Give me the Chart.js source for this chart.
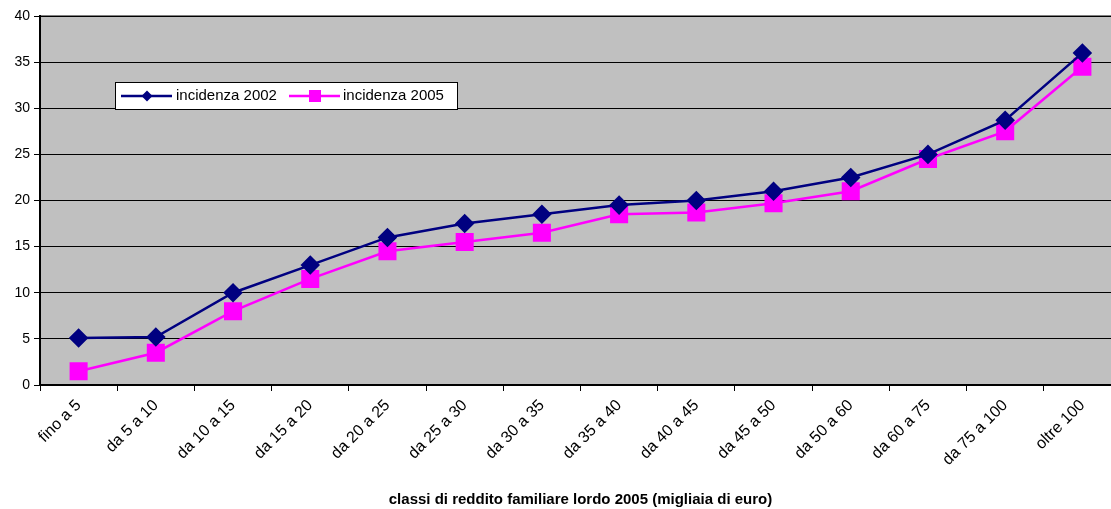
<!DOCTYPE html>
<html>
<head>
<meta charset="utf-8">
<script src="https://cdn.jsdelivr.net/npm/chart.js@4"></script>
<style>
  html, body { margin: 0; padding: 0; background: #fff; overflow: hidden; }
  /* the plot runs a little past the right edge of the picture, as in the original */
  #wrap { width: 1111px; height: 509px; overflow: hidden; }
</style>
</head>
<body>
<div id="wrap"><canvas id="chart" width="1121" height="509"></canvas></div>
<script>
// classi di reddito (categorie asse x)
const categories = ['fino a 5', 'da 5 a 10', 'da 10 a 15', 'da 15 a 20', 'da 20 a 25', 'da 25 a 30',
  'da 30 a 35', 'da 35 a 40', 'da 40 a 45', 'da 45 a 50', 'da 50 a 60', 'da 60 a 75', 'da 75 a 100', 'oltre 100'];
// valori
const incidenza2002 = [5.1, 5.2, 10, 13, 16, 17.5, 18.5, 19.5, 20, 21, 22.5, 25, 28.7, 36];
const incidenza2005 = [1.5, 3.5, 8, 11.5, 14.5, 15.5, 16.5, 18.5, 18.7, 19.7, 21, 24.5, 27.5, 34.5];
const seriesLabels = ['incidenza 2002', 'incidenza 2005'];
const yTicks = [0, 5, 10, 15, 20, 25, 30, 35, 40];
const xTitle = 'classi di reddito familiare lordo 2005 (migliaia di euro)';

const FONT = 'Liberation Sans, Arial, sans-serif';

// gray plot background + top border
const plotBg = {
  id: 'plotBg',
  beforeDraw(chart) {
    const { ctx, chartArea: a } = chart;
    ctx.save();
    ctx.fillStyle = '#c0c0c0';
    ctx.fillRect(a.left, a.top, a.right - a.left, a.bottom - a.top);
    ctx.strokeStyle = '#808080';
    ctx.lineWidth = 2;
    ctx.beginPath();
    ctx.moveTo(a.left, a.top);
    ctx.lineTo(a.right, a.top);
    ctx.stroke();
    ctx.restore();
  }
};

// legend box inside the plot, like the original
const boxLegend = {
  id: 'boxLegend',
  afterDraw(chart) {
    const ctx = chart.ctx;
    const x0 = 115, y0 = 82, w = 342, h = 27;
    ctx.save();
    ctx.fillStyle = '#fff';
    ctx.fillRect(x0, y0, w, h);
    ctx.strokeStyle = '#000';
    ctx.lineWidth = 1;
    ctx.strokeRect(x0 + 0.5, y0 + 0.5, w, h);
    const cy = y0 + h / 2 + 0.5;
    const items = [{ x: 121, tx: 176 }, { x: 289, tx: 343 }];
    chart.data.datasets.forEach((ds, i) => {
      const it = items[i];
      ctx.strokeStyle = ds.borderColor;
      ctx.lineWidth = 2.5;
      ctx.beginPath();
      ctx.moveTo(it.x, cy);
      ctx.lineTo(it.x + 51, cy);
      ctx.stroke();
      ctx.fillStyle = ds.pointBackgroundColor;
      const mx = it.x + 26;
      if (ds.pointStyle === 'rectRot') {
        ctx.beginPath();
        ctx.moveTo(mx - 5.5, cy); ctx.lineTo(mx, cy - 5.5);
        ctx.lineTo(mx + 5.5, cy); ctx.lineTo(mx, cy + 5.5);
        ctx.closePath(); ctx.fill();
      } else {
        ctx.fillRect(mx - 6, cy - 6, 12, 12);
      }
      ctx.fillStyle = '#000';
      ctx.font = '15px ' + FONT;
      ctx.textBaseline = 'middle';
      ctx.fillText(ds.label, it.tx, cy);
    });
    ctx.restore();
  }
};

new Chart(document.getElementById('chart'), {
  type: 'line',
  data: {
    labels: categories,
    datasets: [
      {
        label: seriesLabels[0],
        data: incidenza2002,
        borderColor: '#000080',
        backgroundColor: '#000080',
        pointBackgroundColor: '#000080',
        pointBorderColor: '#000080',
        pointStyle: 'rectRot',
        pointRadius: 8,
        borderWidth: 2.5,
        tension: 0
      },
      {
        label: seriesLabels[1],
        data: incidenza2005,
        borderColor: '#ff00ff',
        backgroundColor: '#ff00ff',
        pointBackgroundColor: '#ff00ff',
        pointBorderColor: '#ff00ff',
        pointStyle: 'rect',
        pointRadius: 11,
        borderWidth: 2.5,
        tension: 0
      }
    ]
  },
  options: {
    responsive: false,
    animation: false,
    layout: { autoPadding: false, padding: { top: 16, right: 0, left: 0, bottom: 0 } },
    plugins: {
      legend: { display: false },
      tooltip: { enabled: false }
    },
    scales: {
      x: {
        offset: true,
        afterFit: (s) => { s.height = 124; s.paddingRight = 0; s.paddingLeft = 0; },
        grid: {
          offset: true,
          drawOnChartArea: false,
          drawTicks: true,
          tickLength: 6,
          color: '#000'
        },
        border: { color: '#000', width: 2 },
        ticks: {
          color: '#000',
          font: { family: FONT, size: 16 },
          minRotation: 45,
          maxRotation: 45,
          autoSkip: false,
          padding: 5
        },
        title: {
          display: true,
          text: xTitle,
          color: '#000',
          font: { family: FONT, size: 15, weight: 'bold' },
          padding: { top: 0, bottom: 0 }
        }
      },
      y: {
        min: 0,
        max: 40,
        afterFit: (s) => { s.width = 40; s.paddingTop = 0; s.paddingBottom = 0; },
        afterBuildTicks: (s) => { s.ticks = yTicks.map(v => ({ value: v })); },
        grid: {
          color: '#000',
          lineWidth: 1,
          drawTicks: true,
          tickLength: 6
        },
        border: { color: '#000', width: 2 },
        ticks: {
          color: '#000',
          font: { family: FONT, size: 14 },
          padding: 4
        }
      }
    }
  },
  plugins: [plotBg, boxLegend]
});
</script>
</body>
</html>
